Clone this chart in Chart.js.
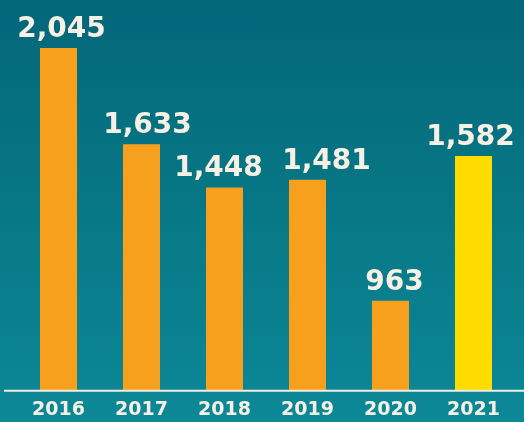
<!DOCTYPE html>
<html>
<head>
<meta charset="utf-8">
<script src="https://cdn.jsdelivr.net/npm/chart.js@4.4.0/dist/chart.umd.min.js"></script>
<style>
  html, body { margin: 0; padding: 0; }
  body { width: 524px; height: 422px; overflow: hidden;
    background: linear-gradient(180deg, #03667a 0%, #077684 45%, #0c8897 100%); }
  canvas { display: block; }
</style>
</head>
<body>
<canvas id="chart" width="524" height="422"></canvas>
<script>
const years = ["2016", "2017", "2018", "2019", "2020", "2021"];
const counts = [2045, 1633, 1448, 1481, 963, 1582];
const barColors = ["#f7a01e", "#f7a01e", "#f7a01e", "#f7a01e", "#f7a01e", "#ffdc00"];

const textColor = "#f7f0e4";
// small horizontal nudges so neighbouring value labels don't collide
const labelShift = [3, 6, -6, 19, 4, -3];

// white baseline across the full width + value labels above bars
const extras = {
  id: "extras",
  afterDatasetsDraw(chart) {
    const ctx = chart.ctx;
    const y0 = chart.chartArea.bottom;
    ctx.save();
    ctx.strokeStyle = "#f2ede4";
    ctx.lineWidth = 2;
    ctx.beginPath();
    ctx.moveTo(4, y0 + 0.5);
    ctx.lineTo(chart.width, y0 + 0.5);
    ctx.stroke();

    ctx.fillStyle = textColor;
    ctx.font = "bold 28px 'DejaVu Sans'";
    ctx.textAlign = "center";
    ctx.textBaseline = "alphabetic";
    chart.getDatasetMeta(0).data.forEach(function (bar, i) {
      ctx.fillText(counts[i].toLocaleString("en-US"), bar.x + labelShift[i], bar.y - 11);
    });
    ctx.restore();
  }
};

new Chart(document.getElementById("chart"), {
  type: "bar",
  data: {
    labels: years,
    datasets: [{
      data: counts,
      backgroundColor: barColors,
      borderWidth: 0,
      barPercentage: 0.446,
      categoryPercentage: 1
    }]
  },
  options: {
    responsive: false,
    animation: false,
    layout: { padding: { left: 17, right: 9, top: 0, bottom: -7 } },
    plugins: { legend: { display: false }, tooltip: { enabled: false } },
    scales: {
      x: {
        grid: { display: false, drawTicks: false },
        border: { display: false },
        ticks: {
          color: textColor,
          padding: 8,
          font: { family: "DejaVu Sans", size: 19, weight: "bold" }
        }
      },
      y: {
        display: false,
        min: 580,
        max: 2250
      }
    }
  },
  plugins: [extras]
});
</script>
</body>
</html>
